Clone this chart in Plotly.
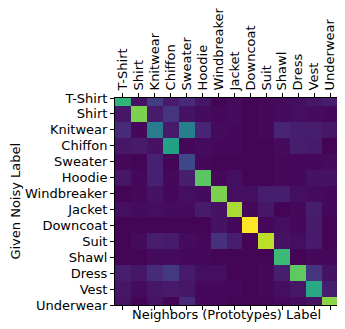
"""Noisy-label vs prototype-neighbour confusion heatmap."""

import plotly.graph_objects as go

labels = ["T-Shirt", "Shirt", "Knitwear", "Chiffon", "Sweater", "Hoodie", "Windbreaker",
          "Jacket", "Downcoat", "Suit", "Shawl", "Dress", "Vest", "Underwear"]

# rows = given noisy label, columns = neighbours (prototypes) label
confusion = [
    [0.65, 0.05, 0.18, 0.07, 0.12, 0.06, 0.01, 0.03, 0.01, 0.02, 0.03, 0.04, 0.06, 0.08],
    [0.06, 0.80, 0.07, 0.15, 0.05, 0.03, 0.02, 0.03, 0.01, 0.02, 0.03, 0.04, 0.03, 0.02],
    [0.12, 0.02, 0.42, 0.07, 0.43, 0.10, 0.03, 0.02, 0.01, 0.02, 0.10, 0.08, 0.08, 0.06],
    [0.06, 0.07, 0.05, 0.57, 0.02, 0.03, 0.02, 0.02, 0.01, 0.01, 0.03, 0.08, 0.07, 0.01],
    [0.02, 0.01, 0.09, 0.01, 0.22, 0.02, 0.01, 0.01, 0.01, 0.01, 0.02, 0.02, 0.02, 0.03],
    [0.06, 0.02, 0.09, 0.02, 0.08, 0.74, 0.02, 0.04, 0.01, 0.01, 0.02, 0.02, 0.05, 0.05],
    [0.01, 0.02, 0.05, 0.02, 0.04, 0.03, 0.80, 0.04, 0.04, 0.08, 0.08, 0.04, 0.03, 0.02],
    [0.04, 0.03, 0.04, 0.03, 0.03, 0.07, 0.05, 0.87, 0.02, 0.06, 0.01, 0.02, 0.08, 0.02],
    [0.01, 0.01, 0.01, 0.01, 0.01, 0.01, 0.05, 0.02, 1.00, 0.02, 0.04, 0.02, 0.07, 0.01],
    [0.01, 0.03, 0.08, 0.07, 0.03, 0.02, 0.14, 0.08, 0.01, 0.90, 0.05, 0.04, 0.07, 0.01],
    [0.01, 0.01, 0.03, 0.03, 0.02, 0.02, 0.01, 0.01, 0.01, 0.01, 0.68, 0.01, 0.02, 0.02],
    [0.08, 0.06, 0.12, 0.17, 0.07, 0.04, 0.04, 0.01, 0.01, 0.02, 0.08, 0.75, 0.15, 0.05],
    [0.06, 0.03, 0.06, 0.07, 0.06, 0.02, 0.02, 0.02, 0.01, 0.02, 0.04, 0.06, 0.60, 0.08],
    [0.05, 0.01, 0.05, 0.01, 0.12, 0.02, 0.02, 0.01, 0.01, 0.01, 0.02, 0.03, 0.05, 0.82],
]

font = dict(family="DejaVu Sans", size=13, color="black")

fig = go.Figure(go.Heatmap(
    z=confusion,
    x=labels,
    y=labels,
    colorscale="Viridis",
    zmin=0,
    zmax=1,
    showscale=False,
))

axis_style = dict(
    showline=True, mirror="ticks", linecolor="black", linewidth=1,
    ticks="outside", ticklen=4, tickwidth=1, tickcolor="black",
    showgrid=False, zeroline=False, tickfont=font,
    tickmode="array", tickvals=labels, ticktext=labels, automargin=False,
)

# page body adds an 8px offset, so the figure is 8px smaller than the window
fig.update_layout(
    width=337,
    height=321,
    margin=dict(l=107, r=7, t=90, b=24),
    paper_bgcolor="white",
    plot_bgcolor="white",
    font=font,
    xaxis=dict(side="top", tickangle=-90, range=[-0.5, 13.5], **axis_style),
    # top and bottom rows are half clipped, as in the original
    yaxis=dict(range=[13, 0], **axis_style),
)

fig.add_annotation(text="Neighbors (Prototypes) Label", xref="paper", yref="paper",
                   x=0.5, y=-0.048, xanchor="center", yanchor="middle",
                   showarrow=False, font=font)
fig.add_annotation(text="Given Noisy Label", xref="paper", yref="paper",
                   x=-0.448, y=0.5, xanchor="center", yanchor="middle", textangle=-90,
                   showarrow=False, font=font)

fig.write_html("out.html")
